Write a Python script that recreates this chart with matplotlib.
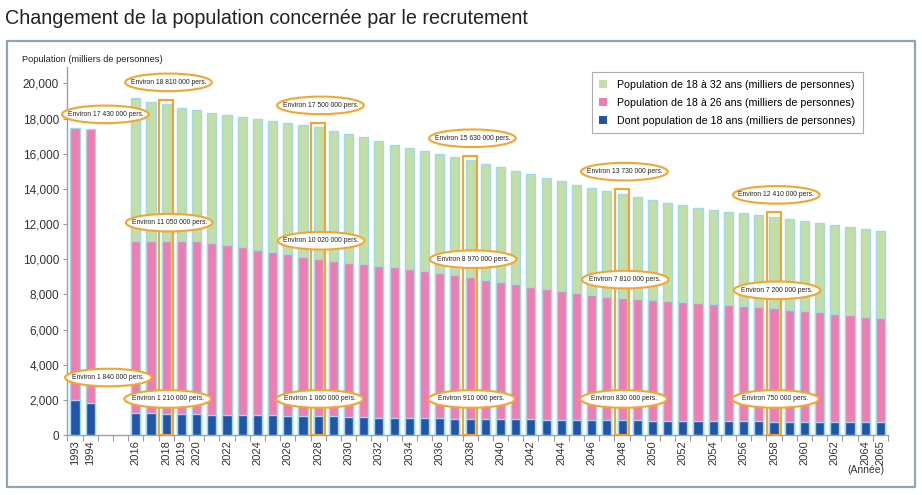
import numpy as np
import matplotlib
matplotlib.use("Agg")
import matplotlib.pyplot as plt
from matplotlib.patches import Ellipse, Rectangle, Patch

plt.rcParams['font.family'] = ['Liberation Sans', 'DejaVu Sans']

# ---------------- data ----------------
old_years = [1993, 1994]
old_pink = [17450, 17430]
old_blue = [1980, 1840]

new_years = list(range(2016, 2066))
green_18_32 = [19150, 18950, 18810, 18620, 18480, 18320, 18210, 18080, 17960, 17860,
               17760, 17640, 17500, 17320, 17130, 16930, 16700, 16480, 16310, 16140,
               15960, 15790, 15630, 15440, 15250, 15040, 14820, 14610, 14420, 14220,
               14030, 13880, 13730, 13550, 13360, 13200, 13070, 12940, 12820, 12710,
               12610, 12510, 12410, 12290, 12180, 12070, 11950, 11840, 11720, 11590]
pink_18_26 = [11020, 11010, 11050, 11020, 11010, 10920, 10820, 10690, 10550, 10400,
              10290, 10150, 10020, 9910, 9810, 9720, 9620, 9530, 9430, 9340,
              9220, 9090, 8970, 8820, 8680, 8590, 8440, 8300, 8170, 8060,
              7960, 7870, 7810, 7730, 7670, 7620, 7580, 7520, 7460, 7390,
              7320, 7260, 7200, 7110, 7030, 6970, 6900, 6820, 6740, 6650]
blue_18 = [1250, 1230, 1210, 1200, 1190, 1160, 1150, 1120, 1110, 1110,
           1100, 1080, 1060, 1060, 1040, 1020, 990, 980, 980, 970,
           950, 930, 910, 910, 900, 900, 890, 880, 880, 870,
           860, 850, 830, 830, 820, 820, 810, 810, 800, 800,
           790, 780, 750, 760, 760, 750, 750, 740, 730, 720]

highlight_years = [2018, 2028, 2038, 2048, 2058]
n_gap = 2
shown_tick_years = [1993, 1994, 2016, 2018, 2019, 2020] + list(range(2022, 2066, 2)) + [2065]

legend_labels = ["Population de 18 à 32 ans (milliers de personnes)",
                 "Population de 18 à 26 ans (milliers de personnes)",
                 "Dont population de 18 ans (milliers de personnes)"]

# ---------------- style ----------------
C_GREEN = '#C3DFA6'
C_PINK = '#EE7DB1'
C_BLUE = '#2355A6'
C_EDGE = '#9ED9EE'
C_ORANGE = '#F5A52E'
C_FRAME = '#8EA6B6'

def idx_of(year):
    if year in old_years:
        return old_years.index(year)
    return len(old_years) + n_gap + (year - new_years[0])

def fmt_pers(v):
    s = f"{int(v) * 1000:,}".replace(',', ' ')
    return f"Environ {s} pers."

fig = plt.figure(figsize=(9.22, 4.95), dpi=100)
# outer frame
fig.patches.append(Rectangle((7/922, 1-487/495), 908/922, 446/495, transform=fig.transFigure,
                             fill=False, edgecolor=C_FRAME, linewidth=1.6, zorder=0))
fig.text(5/922, 1-19/495, "Changement de la population concernée par le recrutement",
         fontsize=14.2, color='#222222', va='center', ha='left')

ax = fig.add_axes([67.4/922, 1-435/495, (888-67.4)/922, (435-66.7)/495])
n_slots = len(old_years) + n_gap + len(new_years)

x_old = [idx_of(y) for y in old_years]
x_new = [idx_of(y) for y in new_years]
W = 0.6
ax.bar(x_new, green_18_32, width=W, color=C_GREEN, edgecolor=C_EDGE, linewidth=1.0, zorder=2)
ax.bar(x_old + x_new, old_pink + pink_18_26, width=W, color=C_PINK, edgecolor=C_EDGE, linewidth=1.0, zorder=3)
ax.bar(x_old + x_new, old_blue + blue_18, width=W, color=C_BLUE, edgecolor=C_EDGE, linewidth=1.0, zorder=4)

# highlight boxes
for y in highlight_years:
    i = new_years.index(y)
    ax.add_patch(Rectangle((idx_of(y) - 0.46, 0), 0.92, green_18_32[i] + 250, fill=False,
                           edgecolor=C_ORANGE, linewidth=1.5, zorder=5))

# ellipse annotations
EW, EH = 5.7, 1000
def ann(x, y, val):
    ax.add_patch(Ellipse((x, y), EW, EH, facecolor='white', edgecolor=C_ORANGE, linewidth=1.5,
                         zorder=6, clip_on=False))
    ax.text(x, y, fmt_pers(val), fontsize=4.9, ha='center', va='center', color='#222222',
            zorder=7, clip_on=False)

ann(2.0, old_pink[1] + 810, old_pink[1])
ann(2.2, 3270, old_blue[1])
for y in highlight_years:
    i = new_years.index(y)
    xi = idx_of(y)
    ann(xi + 0.15, green_18_32[i] + 1250, green_18_32[i])
    ann(xi + 0.2, pink_18_26[i] + 1030, pink_18_26[i])
    ann(xi + 0.1, 2050, blue_18[i])

ax.set_xlim(-0.5, n_slots - 0.5)
ax.set_ylim(0, 20950)
ax.set_yticks(range(0, 20001, 2000))
ax.set_yticklabels([f"{v:,}" for v in range(0, 20001, 2000)], fontsize=8.5, color='#333333')
ax.tick_params(axis='y', length=3, width=0.8, color='#999999', pad=3)

ax.set_xticks([idx_of(y) for y in shown_tick_years])
ax.set_xticklabels([str(y) for y in shown_tick_years], rotation=90, fontsize=8, color='#333333')
ax.tick_params(axis='x', length=0, pad=4)
ax.set_xticks(np.arange(-0.5, n_slots, 1.0), minor=True)
ax.tick_params(axis='x', which='minor', length=4, width=0.8, color='#999999')

for s in ['top', 'right']:
    ax.spines[s].set_visible(False)
for s in ['left', 'bottom']:
    ax.spines[s].set_color('#A0A0A0')
    ax.spines[s].set_linewidth(1.0)

fig.text(22/922, 1-59/495, "Population (milliers de personnes)", fontsize=6.7, color='#222222',
         ha='left', va='center')
fig.text(884/922, 1-470/495, "(Année)", fontsize=7.5, color='#333333', ha='right', va='center')

handles = [Patch(facecolor=C_GREEN, edgecolor='none'),
           Patch(facecolor=C_PINK, edgecolor='none'),
           Patch(facecolor=C_BLUE, edgecolor='none')]
leg = ax.legend(handles, legend_labels, loc='upper left', bbox_to_anchor=(0.639, 0.985),
                borderaxespad=0, fontsize=7.7, handlelength=0.75, handleheight=0.75,
                handletextpad=0.9, labelspacing=0.75, fancybox=False, frameon=True,
                borderpad=0.7)
leg.get_frame().set_edgecolor('#999999')
leg.get_frame().set_linewidth(0.8)
leg.set_zorder(8)

fig.savefig('out.png', dpi=100)
